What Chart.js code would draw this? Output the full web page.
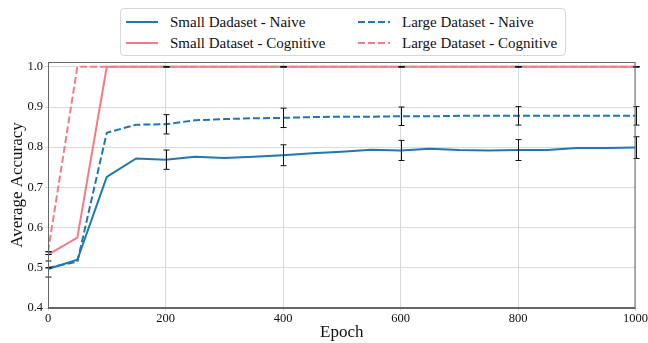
<!DOCTYPE html>
<html>
<head>
<meta charset="utf-8">
<script src="https://cdn.jsdelivr.net/npm/chart.js@4/dist/chart.umd.min.js"></script>
<style>
  body { margin: 0; background: #fff; }
  #wrap { position: relative; width: 648px; height: 343px; }
  #legend {
    position: absolute; left: 120px; top: 8px; width: 444px; height: 46px;
    border: 1px solid #d8d8d8; border-radius: 4px; background: #fff;
    font-family: "Liberation Serif", "Times New Roman", serif; font-size: 15px; color: #111;
  }
  .item { position: absolute; display: flex; align-items: center; white-space: nowrap; height: 20px; }
  .item svg { margin-right: 12px; }
</style>
</head>
<body>
<div id="wrap">
  <canvas id="accChart" width="648" height="343"></canvas>
  <div id="legend"></div>
</div>
<script>
// epochs and accuracy values
const epochs = [0, 50, 100, 150, 200, 250, 300, 350, 400, 450, 500, 550, 600, 650, 700, 750, 800, 850, 900, 950, 1000];
const smallNaive = [0.497, 0.520, 0.726, 0.772, 0.769, 0.776, 0.773, 0.776, 0.780, 0.785, 0.789, 0.794, 0.792, 0.796, 0.793, 0.792, 0.793, 0.793, 0.798, 0.798, 0.799];
const largeNaive = [0.500, 0.515, 0.836, 0.856, 0.857, 0.867, 0.870, 0.872, 0.873, 0.875, 0.876, 0.876, 0.877, 0.877, 0.878, 0.878, 0.878, 0.878, 0.878, 0.878, 0.878];
const smallCog = [0.533, 0.575, 1.0, 1.0, 1.0, 1.0, 1.0, 1.0, 1.0, 1.0, 1.0, 1.0, 1.0, 1.0, 1.0, 1.0, 1.0, 1.0, 1.0, 1.0, 1.0];
const largeCog = [0.540, 1.0, 1.0, 1.0, 1.0, 1.0, 1.0, 1.0, 1.0, 1.0, 1.0, 1.0, 1.0, 1.0, 1.0, 1.0, 1.0, 1.0, 1.0, 1.0, 1.0];

// error bars (std) every 200 epochs
const errEpochs = [0, 200, 400, 600, 800, 1000];
const smallNaiveErr = [0.020, 0.024, 0.026, 0.025, 0.026, 0.027];
const largeNaiveErr = [0, 0.024, 0.024, 0.023, 0.023, 0.023];
const smallCogErr = [0, 0, 0, 0, 0, 0];
const largeCogErr = [0, 0, 0, 0, 0, 0];

const yTicks = [0.4, 0.5, 0.6, 0.7, 0.8, 0.9, 1.0];
const xTicks = [0, 200, 400, 600, 800, 1000];

const blue = '#1f77b4';
const pink = '#f27c86';
const serif = '"Liberation Serif", "Times New Roman", serif';

function pts(vals) {
    return epochs.map((e, i) => ({ x: e, y: vals[i] }));
}

const series = [
    { label: 'Small Dadaset - Naive', data: smallNaive, err: smallNaiveErr, color: blue, dash: [] },
    { label: 'Small Dataset - Cognitive', data: smallCog, err: smallCogErr, color: pink, dash: [] },
    { label: 'Large Dataset - Naive', data: largeNaive, err: largeNaiveErr, color: blue, dash: [7, 3] },
    { label: 'Large Dataset - Cognitive', data: largeCog, err: largeCogErr, color: pink, dash: [7, 3] }
];

// error bars plus the top/right spines
const errorBars = {
    id: 'errorBars',
    afterDatasetsDraw(chart) {
        const c = chart.ctx, xs = chart.scales.x, ys = chart.scales.y;
        c.save();
        c.strokeStyle = '#111';
        c.lineWidth = 1;
        series.forEach(s => {
            errEpochs.forEach((e, i) => {
                const v = s.data[epochs.indexOf(e)];
                const px = Math.round(xs.getPixelForValue(e)) + 0.5;
                const top = ys.getPixelForValue(v + s.err[i]);
                const bot = ys.getPixelForValue(v - s.err[i]);
                c.beginPath();
                c.moveTo(px, top); c.lineTo(px, bot);
                c.moveTo(px - 3, top); c.lineTo(px + 3, top);
                c.moveTo(px - 3, bot); c.lineTo(px + 3, bot);
                c.stroke();
            });
        });
        const a = chart.chartArea;
        c.strokeStyle = '#666';
        c.strokeRect(a.left + 0.5, a.top + 0.5, a.right - a.left - 1, a.bottom - a.top - 1);
        c.restore();
    }
};

new Chart(document.getElementById('accChart'), {
    type: 'line',
    data: {
        datasets: series.map(s => ({
            label: s.label,
            data: pts(s.data),
            borderColor: s.color,
            borderDash: s.dash,
            borderWidth: 2,
            pointRadius: 0,
            fill: false,
            tension: 0
        }))
    },
    options: {
        responsive: false,
        animation: false,
        layout: { padding: { top: 62, right: 12, left: 7, bottom: 0 } },
        plugins: { legend: { display: false }, tooltip: { enabled: false } },
        scales: {
            x: {
                type: 'linear', min: 0, max: 1000,
                afterBuildTicks: s => { s.ticks = xTicks.map(v => ({ value: v })); },
                afterFit: s => { s.height = 35; },
                grid: { color: '#d9d9d9', tickLength: 3 },
                border: { color: '#666' },
                ticks: { color: '#111', font: { family: serif, size: 12.5 }, padding: 0, maxRotation: 0, callback: v => String(v) },
                title: { display: true, text: 'Epoch', color: '#111', font: { family: serif, size: 17 }, padding: 0 }
            },
            y: {
                min: 0.4, max: 1.012,
                afterBuildTicks: s => { s.ticks = yTicks.map(v => ({ value: v })); },
                afterFit: s => { s.width = 41; },
                grid: { color: '#d9d9d9', tickLength: 3 },
                border: { color: '#666' },
                ticks: { color: '#111', font: { family: serif, size: 12.5 }, padding: 2, callback: v => v.toFixed(1) },
                title: { display: true, text: 'Average Accuracy', color: '#111', font: { family: serif, size: 17 }, padding: 0 }
            }
        }
    },
    plugins: [errorBars]
});

// html legend in two columns, like the original
const legend = document.getElementById('legend');
const spots = [[5, 3], [5, 24], [237, 3], [237, 24]];
series.forEach((s, i) => {
    const d = document.createElement('div');
    d.className = 'item';
    d.style.left = spots[i][0] + 'px';
    d.style.top = spots[i][1] + 'px';
    d.innerHTML = '<svg width="32" height="6"><line x1="0" y1="3" x2="32" y2="3" stroke="' + s.color +
        '" stroke-width="2" stroke-dasharray="' + (s.dash.length ? s.dash.join(',') : 'none') + '"/></svg>';
    const t = document.createElement('span');
    t.textContent = s.label;
    d.appendChild(t);
    legend.appendChild(d);
});
</script>
</body>
</html>
